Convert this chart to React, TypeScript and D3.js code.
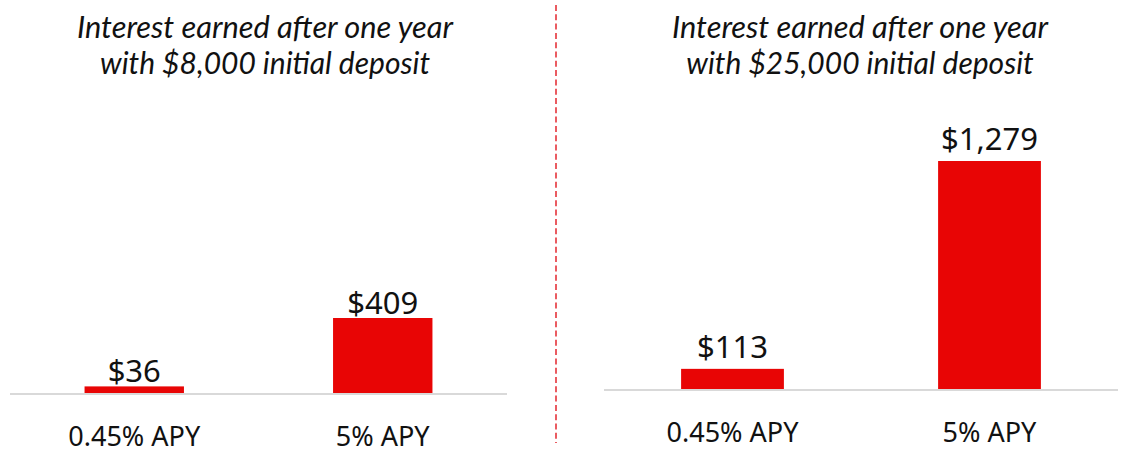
import React from "react";
import * as d3 from "d3";

const categories = ["0.45% APY", "5% APY"];
const valuesSmall = [36, 409];
const valuesLarge = [113, 1279];
const labelsSmall = ["$36", "$409"];
const labelsLarge = ["$113", "$1,279"];
const titleSmall = ["Interest earned after one year", "with $8,000 initial deposit"];
const titleLarge = ["Interest earned after one year", "with $25,000 initial deposit"];

const W = 1127;
const H = 462;
const RED = "#e80505";

type PanelProps = {
  x0: number;
  x1: number;
  baseY: number;
  topY: number;
  values: number[];
  labels: string[];
  title: string[];
  titleCx: number;
  labelGap: number;
};

function Panel({ x0, x1, baseY, topY, values, labels, title, titleCx, labelGap }: PanelProps) {
  const x = d3.scaleBand<string>().domain(categories).range([x0, x1]).paddingInner(0.6).paddingOuter(0.3);
  const maxV = d3.max(values) as number;
  const y = d3.scaleLinear().domain([0, maxV]).range([baseY, topY]);
  return (
    <g>
      {title.map((t, i) => (
        <text
          key={i}
          x={titleCx}
          y={38 + i * 36}
          textAnchor="middle"
          fontFamily="Lato, 'Open Sans', sans-serif"
          fontStyle="italic"
          fontSize={30}
          fill="#111"
          textLength={i === 0 ? 376 : undefined}
          lengthAdjust="spacingAndGlyphs"
        >
          {t}
        </text>
      ))}
      <line x1={x0} x2={x1} y1={baseY + 1} y2={baseY + 1} stroke="#d9d9d9" strokeWidth={2} />
      {categories.map((c, i) => (
        <g key={c}>
          <rect
            x={x(c)}
            y={y(values[i])}
            width={x.bandwidth()}
            height={baseY - y(values[i])}
            fill={RED}
          />
          <text
            x={(x(c) as number) + x.bandwidth() / 2}
            y={y(values[i]) - labelGap}
            textAnchor="middle"
            fontFamily="'Noto Sans', 'Open Sans', sans-serif"
            fontSize={31}
            fill="#111"
          >
            {labels[i]}
          </text>
          <text
            x={(x(c) as number) + x.bandwidth() / 2}
            y={baseY + 53}
            textAnchor="middle"
            fontFamily="'Noto Sans', 'Open Sans', sans-serif"
            fontSize={27}
            fill="#111"
          >
            {c}
          </text>
        </g>
      ))}
    </g>
  );
}

export default function App() {
  return (
    <svg
      width={W}
      height={H}
      style={{ position: "absolute", left: 0, top: 0, display: "block", background: "#fff" }}
    >
      <Panel
        x0={10}
        x1={507}
        baseY={393}
        topY={318}
        values={valuesSmall}
        labels={labelsSmall}
        title={titleSmall}
        titleCx={265}
        labelGap={4}
      />
      <Panel
        x0={604}
        x1={1118}
        baseY={389}
        topY={161}
        values={valuesLarge}
        labels={labelsLarge}
        title={titleLarge}
        titleCx={860}
        labelGap={11}
      />
      <line x1={556} x2={556} y1={5} y2={443} stroke="#e3262e" strokeWidth={1.5} strokeDasharray="6 3.3" />
    </svg>
  );
}
